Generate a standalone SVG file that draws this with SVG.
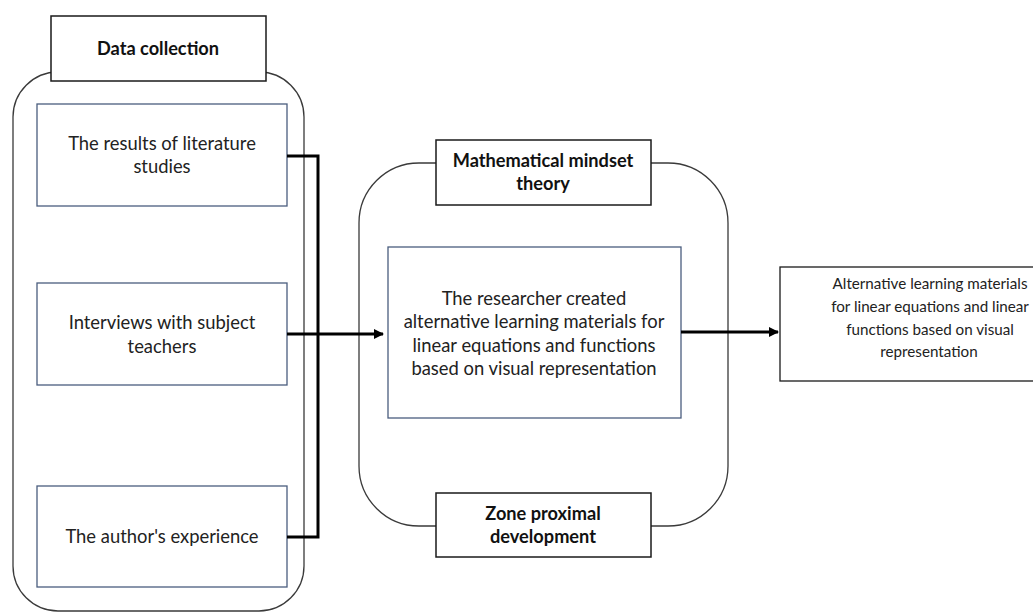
<svg xmlns="http://www.w3.org/2000/svg" width="1033" height="612" viewBox="0 0 1033 612">
<defs>
<style>
.frame{fill:none;stroke:#3a3a3a;stroke-width:1.3}
.label{fill:#fff;stroke:#1a1a1a;stroke-width:1.5}
.inner{fill:#fff;stroke:#4a5d7e;stroke-width:1.3}
.out{fill:#fff;stroke:#1a1a1a;stroke-width:1.3}
.t{font-family:Lato,"Open Sans",sans-serif;font-size:18.4px;fill:#222;text-anchor:middle}
.s{font-size:15.2px}
.b{font-family:Lato,"Open Sans",sans-serif;font-size:18.2px;font-weight:bold;fill:#111;text-anchor:middle}
.conn{fill:none;stroke:#000;stroke-width:3}
</style>
<marker id="ah" markerWidth="10" markerHeight="10" refX="9" refY="5" orient="auto" markerUnits="userSpaceOnUse">
<path d="M0,0 L10,5 L0,10 Z" fill="#000"/>
</marker>
</defs>
<rect width="1033" height="612" fill="#fff"/>
<g id="data-collection-group">
<rect class="frame" x="13" y="72" width="291" height="539" rx="45" ry="45"/>
<rect class="label" x="51" y="16" width="215" height="65"/>
<text class="b" x="158" y="55">Data collection</text>
</g>
<g id="literature">
<rect class="inner" x="37" y="104" width="250" height="102"/>
<text class="t" x="162" y="150">The results of literature</text>
<text class="t" x="162" y="173">studies</text>
</g>
<g id="interviews">
<rect class="inner" x="37" y="283" width="250" height="102"/>
<text class="t" x="162" y="329">Interviews with subject</text>
<text class="t" x="162" y="353">teachers</text>
</g>
<g id="experience">
<rect class="inner" x="37" y="486" width="250" height="101"/>
<text class="t" x="162" y="543">The author's experience</text>
</g>
<g id="theory-group">
<rect class="frame" x="359" y="163" width="369" height="363" rx="60" ry="60"/>
<rect class="label" x="436" y="140" width="215" height="65"/>
<text class="b" x="543" y="167">Mathematical mindset</text>
<text class="b" x="543" y="190">theory</text>
<rect class="label" x="436" y="493" width="215" height="64"/>
<text class="b" x="543" y="520">Zone proximal</text>
<text class="b" x="543" y="543">development</text>
</g>
<g id="researcher">
<rect class="inner" x="388" y="247" width="293" height="171"/>
<text class="t" x="534" y="305">The researcher created</text>
<text class="t" x="534" y="328">alternative learning materials for</text>
<text class="t" x="534" y="352">linear equations and functions</text>
<text class="t" x="534" y="375">based on visual representation</text>
</g>
<g id="result">
<rect class="out" x="780" y="267" width="300" height="114"/>
<text class="t s" x="930" y="289">Alternative learning materials</text>
<text class="t s" x="930" y="312">for linear equations and linear</text>
<text class="t s" x="930" y="335">functions based on visual</text>
<text class="t s" x="929" y="357">representation</text>
</g>
<g id="connectors">
<polyline class="conn" points="287,156 318,156 318,537 287,537"/>
<line class="conn" x1="287" y1="334" x2="383" y2="334" marker-end="url(#ah)"/>
<line class="conn" x1="681" y1="332" x2="778" y2="332" marker-end="url(#ah)"/>
</g>
</svg>
